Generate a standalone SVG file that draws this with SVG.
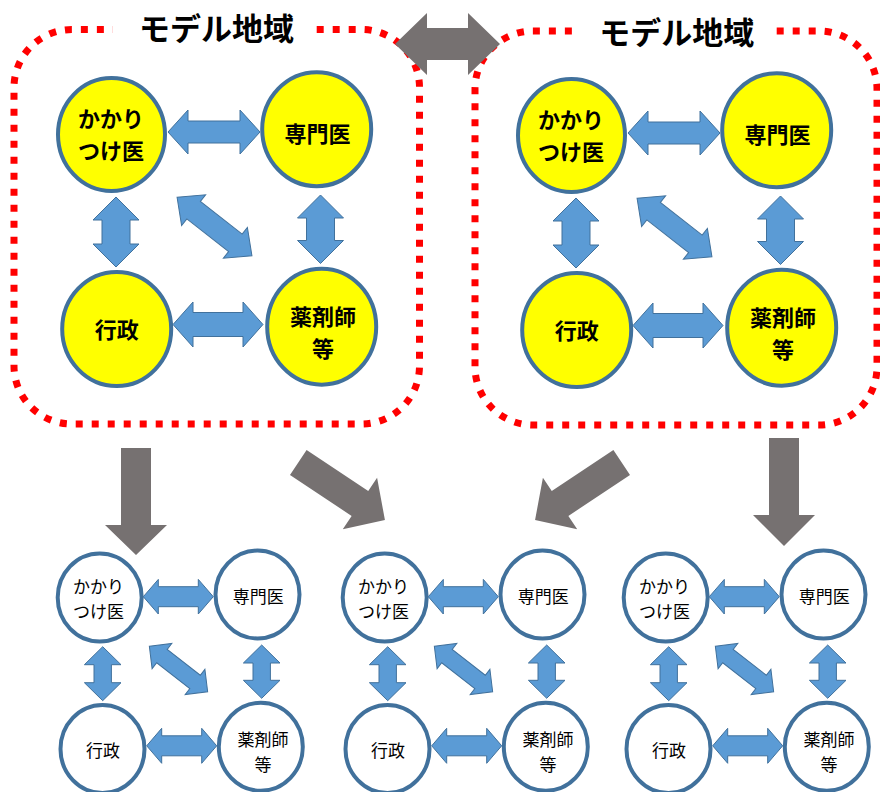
<svg xmlns="http://www.w3.org/2000/svg" width="880" height="792" viewBox="0 0 880 792">
<defs>
<style>
.region{fill:none;stroke:#FF0000;stroke-width:7;stroke-dasharray:7 9}
.big{fill:#FFFF00;stroke:#41719C;stroke-width:4}
.small{fill:#FFFFFF;stroke:#41719C;stroke-width:4}
.link{fill:#5B9BD5;stroke:#41719C;stroke-width:1}
.gray{fill:#767171}
.title{font-family:"Noto Sans CJK JP","Noto Sans",sans-serif;font-size:31px;font-weight:bold;fill:#000;text-anchor:middle}
.bt{font-family:"Noto Sans CJK JP","Noto Sans",sans-serif;font-size:22px;font-weight:bold;fill:#000;text-anchor:middle}
.st{font-family:"Noto Sans CJK JP","Noto Sans",sans-serif;font-size:17px;fill:#000;text-anchor:middle}
</style>
</defs>
<rect width="880" height="792" fill="#FFFFFF"/>

<g id="regions">
<path class="region" d="M316.7 29.5 H361.5 A58 58 0 0 1 419.5 87.5 V366 A58 58 0 0 1 361.5 424 H72 A58 58 0 0 1 14 366 V87.5 A58 58 0 0 1 72 29.5 H113"/>
<text class="title" x="216.5" y="39.5">モデル地域</text>
<path class="region" d="M776.7 31 H819 A58 58 0 0 1 877 89 V367 A58 58 0 0 1 819 425 H533 A58 58 0 0 1 475 367 V89 A58 58 0 0 1 533 31 H573.3"/>
<text class="title" x="676.7" y="43.5">モデル地域</text>
</g>

<g id="connectors">
<g id="links-model-left">
<path class="link" d="M168 132 L188 110 L188 121 L240 121 L240 110 L260 132 L240 154 L240 143 L188 143 L188 154 Z"/>
<path class="link" d="M116 197 L139 220 L130 220 L130 244 L139 244 L116 267 L93 244 L102 244 L102 220 L93 220 Z"/>
<path class="link" d="M320.5 195 L343.5 218 L334.5 218 L334.5 240.5 L343.5 240.5 L320.5 263.5 L297.5 240.5 L306.5 240.5 L306.5 218 L297.5 218 Z"/>
<path class="link" transform="translate(214.5 226.5) rotate(38)" d="M-47.5 0 L-26.5 -19.5 L-26.5 -11 L26.5 -11 L26.5 -19.5 L47.5 0 L26.5 19.5 L26.5 11 L-26.5 11 L-26.5 19.5 Z"/>
<path class="link" d="M173 324.5 L193 302 L193 312.5 L243 312.5 L243 302 L263 324.5 L243 347 L243 336.5 L193 336.5 L193 347 Z"/>
</g>
<g id="links-model-right" transform="translate(460 1)">
<path class="link" d="M168 132 L188 110 L188 121 L240 121 L240 110 L260 132 L240 154 L240 143 L188 143 L188 154 Z"/>
<path class="link" d="M116 197 L139 220 L130 220 L130 244 L139 244 L116 267 L93 244 L102 244 L102 220 L93 220 Z"/>
<path class="link" d="M320.5 195 L343.5 218 L334.5 218 L334.5 240.5 L343.5 240.5 L320.5 263.5 L297.5 240.5 L306.5 240.5 L306.5 218 L297.5 218 Z"/>
<path class="link" transform="translate(214.5 226.5) rotate(38)" d="M-47.5 0 L-26.5 -19.5 L-26.5 -11 L26.5 -11 L26.5 -19.5 L47.5 0 L26.5 19.5 L26.5 11 L-26.5 11 L-26.5 19.5 Z"/>
<path class="link" d="M173 324.5 L193 302 L193 312.5 L243 312.5 L243 302 L263 324.5 L243 347 L243 336.5 L193 336.5 L193 347 Z"/>
</g>
<g id="links-small-1">
<path class="link" d="M143.3 596.7 L158.3 579.4 L158.3 586.7 L198.3 586.7 L198.3 579.4 L213.3 596.7 L198.3 614 L198.3 606.7 L158.3 606.7 L158.3 614 Z"/>
<path class="link" d="M102.7 646.7 L121 664.7 L111.4 664.7 L111.4 682.7 L121 682.7 L102.7 700.7 L84.4 682.7 L94 682.7 L94 664.7 L84.4 664.7 Z"/>
<path class="link" d="M261.7 645 L280 663 L270.4 663 L270.4 680.3 L280 680.3 L261.7 698.3 L243.4 680.3 L253 680.3 L253 663 L243.4 663 Z"/>
<path class="link" transform="translate(178.5 669) rotate(38)" d="M-37 0 L-21 -16 L-21 -8.5 L21 -8.5 L21 -16 L37 0 L21 16 L21 8.5 L-21 8.5 L-21 16 Z"/>
<path class="link" d="M146.7 745.8 L161.7 728.3 L161.7 735.8 L201.7 735.8 L201.7 728.3 L216.7 745.8 L201.7 763.3 L201.7 755.8 L161.7 755.8 L161.7 763.3 Z"/>
</g>
<g id="links-small-2" transform="translate(285 0)">
<path class="link" d="M143.3 596.7 L158.3 579.4 L158.3 586.7 L198.3 586.7 L198.3 579.4 L213.3 596.7 L198.3 614 L198.3 606.7 L158.3 606.7 L158.3 614 Z"/>
<path class="link" d="M102.7 646.7 L121 664.7 L111.4 664.7 L111.4 682.7 L121 682.7 L102.7 700.7 L84.4 682.7 L94 682.7 L94 664.7 L84.4 664.7 Z"/>
<path class="link" d="M261.7 645 L280 663 L270.4 663 L270.4 680.3 L280 680.3 L261.7 698.3 L243.4 680.3 L253 680.3 L253 663 L243.4 663 Z"/>
<path class="link" transform="translate(178.5 669) rotate(38)" d="M-37 0 L-21 -16 L-21 -8.5 L21 -8.5 L21 -16 L37 0 L21 16 L21 8.5 L-21 8.5 L-21 16 Z"/>
<path class="link" d="M146.7 745.8 L161.7 728.3 L161.7 735.8 L201.7 735.8 L201.7 728.3 L216.7 745.8 L201.7 763.3 L201.7 755.8 L161.7 755.8 L161.7 763.3 Z"/>
</g>
<g id="links-small-3" transform="translate(566 0)">
<path class="link" d="M143.3 596.7 L158.3 579.4 L158.3 586.7 L198.3 586.7 L198.3 579.4 L213.3 596.7 L198.3 614 L198.3 606.7 L158.3 606.7 L158.3 614 Z"/>
<path class="link" d="M102.7 646.7 L121 664.7 L111.4 664.7 L111.4 682.7 L121 682.7 L102.7 700.7 L84.4 682.7 L94 682.7 L94 664.7 L84.4 664.7 Z"/>
<path class="link" d="M261.7 645 L280 663 L270.4 663 L270.4 680.3 L280 680.3 L261.7 698.3 L243.4 680.3 L253 680.3 L253 663 L243.4 663 Z"/>
<path class="link" transform="translate(178.5 669) rotate(38)" d="M-37 0 L-21 -16 L-21 -8.5 L21 -8.5 L21 -16 L37 0 L21 16 L21 8.5 L-21 8.5 L-21 16 Z"/>
<path class="link" d="M146.7 745.8 L161.7 728.3 L161.7 735.8 L201.7 735.8 L201.7 728.3 L216.7 745.8 L201.7 763.3 L201.7 755.8 L161.7 755.8 L161.7 763.3 Z"/>
</g>
<g id="gray-arrows">
<path class="gray" d="M395 44 L427 13 L427 28 L468 28 L468 13 L500 44 L468 75 L468 60 L427 60 L427 75 Z"/>
<path class="gray" d="M121 448 L151 448 L151 525 L167 525 L136 555 L105 525 L121 525 Z"/>
<path class="gray" d="M769 438 L799 438 L799 515 L815 515 L784 546 L753 515 L769 515 Z"/>
<path class="gray" transform="translate(298.3 462.5) rotate(33.6)" d="M0 -15 L74 -15 L74 -31 L104 0 L74 31 L74 15 L0 15 Z"/>
<path class="gray" transform="translate(621.7 462.5) rotate(146.4)" d="M0 -15 L74 -15 L74 -31 L104 0 L74 31 L74 15 L0 15 Z"/>
</g>
</g>

<g id="model-left">
<g id="ml-kakaritsuke"><ellipse class="big" cx="111.5" cy="134.5" rx="53.5" ry="56.5"/><text class="bt"><tspan x="111" y="127">かかり</tspan><tspan x="111" y="159">つけ医</tspan></text></g>
<g id="ml-senmon"><ellipse class="big" cx="316.7" cy="129.2" rx="54.5" ry="57"/><text class="bt" x="317.5" y="141.7">専門医</text></g>
<g id="ml-gyosei"><ellipse class="big" cx="116.7" cy="329" rx="54.5" ry="57"/><text class="bt" x="116.7" y="338.4">行政</text></g>
<g id="ml-yakuzaishi"><ellipse class="big" cx="321.7" cy="326.7" rx="54.5" ry="58"/><text class="bt"><tspan x="323" y="325">薬剤師</tspan><tspan x="323" y="357">等</tspan></text></g>
</g>

<g id="model-right" transform="translate(460 1)">
<g id="mr-kakaritsuke"><ellipse class="big" cx="111.5" cy="134.5" rx="53.5" ry="56.5"/><text class="bt"><tspan x="111" y="127">かかり</tspan><tspan x="111" y="159">つけ医</tspan></text></g>
<g id="mr-senmon"><ellipse class="big" cx="316.7" cy="129.2" rx="54.5" ry="57"/><text class="bt" x="317.5" y="141.7">専門医</text></g>
<g id="mr-gyosei"><ellipse class="big" cx="116.7" cy="329" rx="54.5" ry="57"/><text class="bt" x="116.7" y="338.4">行政</text></g>
<g id="mr-yakuzaishi"><ellipse class="big" cx="321.7" cy="326.7" rx="54.5" ry="58"/><text class="bt"><tspan x="323" y="325">薬剤師</tspan><tspan x="323" y="357">等</tspan></text></g>
</g>

<g id="small-1">
<g id="s1-kakaritsuke"><ellipse class="small" cx="99.7" cy="597.5" rx="42" ry="44"/><text class="st"><tspan x="98.5" y="592.5">かかり</tspan><tspan x="98.5" y="617.5">つけ医</tspan></text></g>
<g id="s1-senmon"><ellipse class="small" cx="257.5" cy="594.5" rx="42" ry="44"/><text class="st" x="258.3" y="603.2">専門医</text></g>
<g id="s1-gyosei"><ellipse class="small" cx="102.5" cy="749" rx="42" ry="44"/><text class="st" x="103" y="756.5">行政</text></g>
<g id="s1-yakuzaishi"><ellipse class="small" cx="260.8" cy="746.7" rx="42" ry="44"/><text class="st"><tspan x="263" y="745.7">薬剤師</tspan><tspan x="263" y="770.7">等</tspan></text></g>
</g>

<g id="small-2" transform="translate(285 0)">
<g id="s2-kakaritsuke"><ellipse class="small" cx="99.7" cy="597.5" rx="42" ry="44"/><text class="st"><tspan x="98.5" y="592.5">かかり</tspan><tspan x="98.5" y="617.5">つけ医</tspan></text></g>
<g id="s2-senmon"><ellipse class="small" cx="257.5" cy="594.5" rx="42" ry="44"/><text class="st" x="258.3" y="603.2">専門医</text></g>
<g id="s2-gyosei"><ellipse class="small" cx="102.5" cy="749" rx="42" ry="44"/><text class="st" x="103" y="756.5">行政</text></g>
<g id="s2-yakuzaishi"><ellipse class="small" cx="260.8" cy="746.7" rx="42" ry="44"/><text class="st"><tspan x="263" y="745.7">薬剤師</tspan><tspan x="263" y="770.7">等</tspan></text></g>
</g>

<g id="small-3" transform="translate(566 0)">
<g id="s3-kakaritsuke"><ellipse class="small" cx="99.7" cy="597.5" rx="42" ry="44"/><text class="st"><tspan x="98.5" y="592.5">かかり</tspan><tspan x="98.5" y="617.5">つけ医</tspan></text></g>
<g id="s3-senmon"><ellipse class="small" cx="257.5" cy="594.5" rx="42" ry="44"/><text class="st" x="258.3" y="603.2">専門医</text></g>
<g id="s3-gyosei"><ellipse class="small" cx="102.5" cy="749" rx="42" ry="44"/><text class="st" x="103" y="756.5">行政</text></g>
<g id="s3-yakuzaishi"><ellipse class="small" cx="260.8" cy="746.7" rx="42" ry="44"/><text class="st"><tspan x="263" y="745.7">薬剤師</tspan><tspan x="263" y="770.7">等</tspan></text></g>
</g>
</svg>
